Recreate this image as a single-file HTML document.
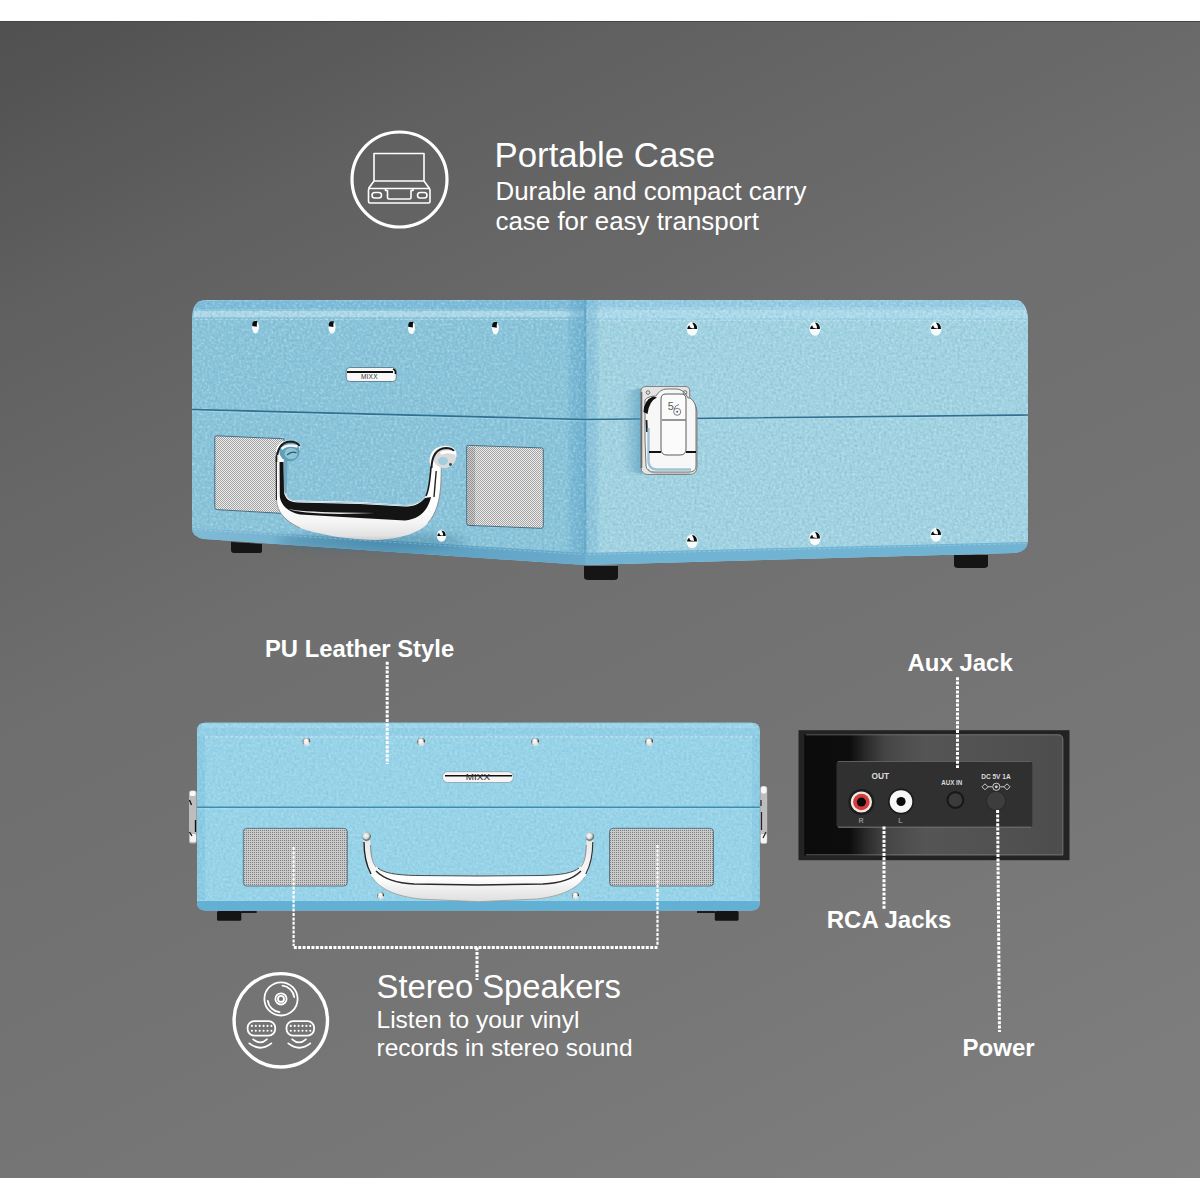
<!DOCTYPE html>
<html><head><meta charset="utf-8"><title>Portable Turntable</title>
<style>
html,body{margin:0;padding:0;width:1200px;height:1200px;overflow:hidden;background:#fff;}
#bg{position:absolute;left:0;top:21px;width:1200px;height:1157px;
background:linear-gradient(154deg,#505050 0%,#616161 18.4%,#6a6a6a 34.2%,#6f6f6f 42.5%,#747474 65%,#7f7f7f 100%);border-top:1px solid #454545;box-sizing:border-box;}
svg{position:absolute;left:0;top:0;}
text{font-family:"Liberation Sans",sans-serif;}
</style></head><body>
<div id="bg"></div>
<svg width="1200" height="1200" viewBox="0 0 1200 1200">
<defs>
  <linearGradient id="cornerg" x1="566" x2="600" y1="0" y2="0" gradientUnits="userSpaceOnUse">
    <stop offset="0" stop-color="#6aaed0" stop-opacity="0"/>
    <stop offset="0.15" stop-color="#6aaed0" stop-opacity="0.45"/>
    <stop offset="0.5" stop-color="#5fa5c8" stop-opacity="0.6"/>
    <stop offset="0.6" stop-color="#70b2d2" stop-opacity="0.5"/>
    <stop offset="0.88" stop-color="#74b5d4" stop-opacity="0.4"/>
    <stop offset="1" stop-color="#74b5d4" stop-opacity="0"/>
  </linearGradient>
  <linearGradient id="latchsh" x1="622" x2="642" y1="0" y2="0" gradientUnits="userSpaceOnUse">
    <stop offset="0" stop-color="#5c9fc0" stop-opacity="0"/>
    <stop offset="1" stop-color="#4f93b6" stop-opacity="0.6"/>
  </linearGradient>
  <linearGradient id="gripg" x1="0" x2="0" y1="505" y2="541" gradientUnits="userSpaceOnUse">
    <stop offset="0" stop-color="#ffffff"/>
    <stop offset="0.5" stop-color="#f4f4f4"/>
    <stop offset="0.85" stop-color="#e2e2e2"/>
    <stop offset="1" stop-color="#c8c8c8"/>
  </linearGradient>
  <pattern id="mesh" width="2" height="2" patternUnits="userSpaceOnUse">
    <rect width="2" height="2" fill="#ececec"/>
    <rect width="1" height="1" fill="#a4a4a4"/>
    <rect x="1" y="1" width="1" height="1" fill="#a4a4a4"/>
  </pattern>
  <pattern id="mesh2" width="2" height="2" patternUnits="userSpaceOnUse">
    <rect width="2" height="2" fill="#cacaca"/>
    <rect width="1" height="1" fill="#7e7e7e"/>
  </pattern>
  <radialGradient id="rivet" cx="0.45" cy="0.35" r="0.6">
    <stop offset="0" stop-color="#ffffff"/>
    <stop offset="0.45" stop-color="#e8e8e8"/>
    <stop offset="0.6" stop-color="#222"/>
    <stop offset="1" stop-color="#cfcfcf"/>
  </radialGradient>
  <linearGradient id="chrome" x1="0" x2="0" y1="0" y2="1">
    <stop offset="0" stop-color="#f4f4f4"/>
    <stop offset="0.35" stop-color="#ffffff"/>
    <stop offset="0.5" stop-color="#e0e0e0"/>
    <stop offset="1" stop-color="#ffffff"/>
  </linearGradient>
  <linearGradient id="panelgloss" x1="804" x2="1063" y1="0" y2="0" gradientUnits="userSpaceOnUse">
    <stop offset="0" stop-color="#0b0b0b"/>
    <stop offset="0.178" stop-color="#0d0d0d"/>
    <stop offset="0.24" stop-color="#2a2a2a"/>
    <stop offset="0.31" stop-color="#444444"/>
    <stop offset="0.39" stop-color="#4e4e4e"/>
    <stop offset="0.47" stop-color="#555555"/>
    <stop offset="1" stop-color="#4d4d4d"/>
  </linearGradient>
  <g id="rvL">
    <ellipse cx="0" cy="0" rx="3.5" ry="6.4" fill="#f7fbfc"/>
    <path d="M-3.3 -1 Q-3.5 -5.5 -1 -6 L2 -6 Q1 -3 1.4 -0.2 Z" fill="#0c0c0c"/>
  </g>
  <g id="rvR">
    <ellipse cx="0" cy="0.3" rx="5.6" ry="7" fill="#f7fbfc"/>
    <path d="M-5 0.5 Q-4.5 -3 -2.5 -3 Q-3 0 2 0 Q2 -3 0 -6 Q5 -5.5 5 0.5 Z" fill="#0c0c0c"/>
  </g>
  <linearGradient id="chromeF" x1="0" x2="0" y1="840" y2="902" gradientUnits="userSpaceOnUse">
    <stop offset="0" stop-color="#e8e8e8"/>
    <stop offset="0.5" stop-color="#f7f7f7"/>
    <stop offset="0.62" stop-color="#ffffff"/>
    <stop offset="0.75" stop-color="#f2f2f2"/>
    <stop offset="1" stop-color="#dedede"/>
  </linearGradient>
  <radialGradient id="knob" cx="0.4" cy="0.35" r="0.65">
    <stop offset="0" stop-color="#ffffff"/>
    <stop offset="0.5" stop-color="#d8d8d8"/>
    <stop offset="0.8" stop-color="#6a6a6a"/>
    <stop offset="1" stop-color="#9cc8d8"/>
  </radialGradient>
  <radialGradient id="ball" cx="0.45" cy="0.35" r="0.6">
    <stop offset="0" stop-color="#ffffff"/>
    <stop offset="0.35" stop-color="#f0f0f0"/>
    <stop offset="0.6" stop-color="#9a9a9a"/>
    <stop offset="0.8" stop-color="#3a3a3a"/>
    <stop offset="1" stop-color="#c8d8de"/>
  </radialGradient>
  <g id="rvF">
    <circle cx="0" cy="0" r="4" fill="url(#ball)"/>
    <path d="M-3.6 0.6 Q0 -1 3.6 0.6 Q3 3.4 0 3.8 Q-3 3.4 -3.6 0.6 Z" fill="#eef3f5" opacity="0.9"/>
  </g>
  <linearGradient id="lipL" x1="192" x2="585" y1="0" y2="0" gradientUnits="userSpaceOnUse">
    <stop offset="0" stop-color="#7fbad6"/>
    <stop offset="0.2" stop-color="#78b4d1"/>
    <stop offset="0.5" stop-color="#5c9dbf"/>
    <stop offset="0.8" stop-color="#64a6c8"/>
    <stop offset="1" stop-color="#6aabcc"/>
  </linearGradient>
  <filter id="blur4" x="-20%" y="-50%" width="140%" height="200%"><feGaussianBlur stdDeviation="4"/></filter>
  <filter id="leather" x="0" y="0" width="100%" height="100%" filterUnits="userSpaceOnUse">
    <feTurbulence type="fractalNoise" baseFrequency="0.38" numOctaves="2" seed="3" result="n"/>
    <feColorMatrix in="n" type="matrix" values="0 0 0 0 1  0 0 0 0 1  0 0 0 0 1  3.2 0 0 0 -1.6" result="light"/>
    <feColorMatrix in="n" type="matrix" values="0 0 0 0 0.1  0 0 0 0 0.3  0 0 0 0 0.4  -3.2 0 0 0 1.45" result="dark"/>
    <feMerge><feMergeNode in="dark"/><feMergeNode in="light"/></feMerge>
  </filter>
  <clipPath id="clip3d"><path d="M192 318 Q192 300 206 300 L1016 300 Q1026 301 1028 318 L1028 541 Q1027 552 1014 553 L585 565 L204 539 Q192 537 192 528 Z"/></clipPath>
  <clipPath id="clipF"><path d="M197 731 Q197 722.7 205.5 722.7 L751.5 722.7 Q759.8 722.7 759.8 731 L759.8 902 Q759.8 910.5 751.5 910.5 L205.5 910.5 Q197 910.5 197 902 Z"/></clipPath>
</defs>

<!-- ============ TOP ICON: portable case ============ -->
<g fill="none" stroke="#fff">
  <circle cx="399.5" cy="179.5" r="47.5" stroke-width="3.2"/>
  <g stroke-width="1.6" stroke-linejoin="round">
    <rect x="374" y="153.5" width="50" height="27.5"/>
    <path d="M374 181 L368.5 188.5 M424 181 L429.5 188.5"/>
    <rect x="368.5" y="188.5" width="61.5" height="14.5" rx="1.5"/>
    <rect x="372" y="192.5" width="9.5" height="5.5" rx="2.7"/>
    <rect x="417.5" y="192.5" width="9.5" height="5.5" rx="2.7"/>
    <path d="M385.5 188.5 V190.5 H387.5 V197.5 Q387.5 199 389 199 H409.5 Q411 199 411 197.5 V190.5 H413 V188.5"/>
  </g>
</g>
<g fill="#fff">
  <text x="494.5" y="167" font-size="34.8">Portable Case</text>
  <text x="495.5" y="199.5" font-size="25.9">Durable and compact carry</text>
  <text x="495.5" y="230" font-size="25.9">case for easy transport</text>
</g>

<!-- ============ 3D CASE ============ -->
<g id="case3d">
  <!-- left face -->
  <path d="M192 318 Q192 300 206 300 L585 300 L585 565 L204 539 Q192 537 192 528 Z" fill="#88c3da"/>
  <!-- right face -->
  <path d="M585 300 L1016 300 Q1026 301 1028 318 L1028 541 Q1027 552 1014 553 L585 565 Z" fill="#a0d2e1"/>
  <!-- top strips -->
  <path d="M193 318 Q194 300 207 300 L585 300 L585 319 Z" fill="#8cc5dc"/>
  <path d="M199 301 L585 301 L585 309 L195 309 Q196 303 199 301 Z" fill="#7ab9d8" opacity="0.9"/>
  <path d="M194 311 L585 311 L585 317 L193 317 Z" fill="#b4dcea" opacity="0.8"/>
  <path d="M585 300 L1016 300 Q1026 301 1028 318 L1028 320 L585 320 Z" fill="#9dd2e6"/>
  <path d="M585 300.5 L1016 300.5 Q1022 301.5 1024 307 L585 307 Z" fill="#90c8df" opacity="0.7"/>
  <path d="M585 310 L1026 310 L1027 318 L585 318 Z" fill="#b6deeb" opacity="0.6"/>
  <!-- stitching top -->
  <path d="M195 319.5 L583 319.5 M588 320.5 L1026 320.5" stroke="#d4ecf5" stroke-width="1" stroke-dasharray="3 2" fill="none" opacity="0.45"/>
  <!-- corner shading -->
  <path d="M566 300 L600 300 L600 565 L566 562 Z" fill="url(#cornerg)"/>
  <path d="M584.3 300 L586.3 300 L586.3 565 L584.3 565 Z" fill="#5a9dbf" opacity="0.75"/>
  <g clip-path="url(#clip3d)" opacity="0.26"><rect x="192" y="300" width="836" height="265" filter="url(#leather)"/></g>
  <!-- seams -->
  <path d="M192 409.5 L585 419.5 L1028 415" stroke="#2f6f8f" stroke-width="1.6" fill="none"/>
  <path d="M192 411 L585 421 L1028 416.5" stroke="#b9e0ee" stroke-width="0.8" fill="none" opacity="0.6"/>
  <!-- bottom lips -->
  <path d="M192 528 L585 553 L585 565 L204 539 Q192 537 192 528 Z" fill="url(#lipL)"/>
  <ellipse cx="372" cy="541" rx="95" ry="9" fill="#2f6f8f" opacity="0.35" filter="url(#blur4)"/>
  <path d="M585 553 L1028 542 Q1027 552 1014 553 L585 565 Z" fill="#71b3d3"/>
  <path d="M194 529.5 L583 554.5 M588 554.5 L1026 543.5" stroke="#c4e5f1" stroke-width="0.9" stroke-dasharray="3 2" fill="none" opacity="0.4"/>
  <!-- feet -->
  <path d="M231 542 L262 544 L262 551 Q262 553 259 553 L234 553 Q231 553 231 550 Z" fill="#151515"/>
  <path d="M584 566 L618 566 L618 577 Q618 580 614 580 L588 580 Q584 580 584 577 Z" fill="#151515"/>
  <path d="M954 555 L988 555 L988 565 Q988 568 984 568 L958 568 Q954 568 954 565 Z" fill="#151515"/>
  <!-- latch shadow on right face -->
  <path d="M622 392 L642 388 L642 474 L622 470 Z" fill="url(#latchsh)"/>
  <!-- grilles -->
  <path d="M214.8 437.5 Q214.8 435.8 216.8 435.8 L284 438.8 L284 513.5 L216.8 509.6 Q214.8 509.6 214.8 507.6 Z" fill="url(#mesh)" stroke="#3d6478" stroke-width="0.9"/>
  <path d="M466.7 447.2 Q466.7 445.4 468.7 445.4 L541.3 447.9 Q543.3 447.9 543.3 449.9 L543.3 526.3 Q543.3 528.3 541.3 528.3 L468.7 525.4 Q466.7 525.4 466.7 523.4 Z" fill="url(#mesh)" stroke="#3d6478" stroke-width="0.9"/>
  <path d="M467.5 447 L475 447.3 L475 525.7 L467.5 525.4 Z" fill="#000" opacity="0.12"/>
  <!-- badge -->
  <rect x="346.2" y="367.5" width="50" height="14" rx="3.5" fill="#f7f7f7" stroke="#4d6f80" stroke-width="0.8"/>
  <path d="M347 372 L393 372" stroke="#111" stroke-width="2"/>
  <path d="M393 369 Q396 370 395.5 374" stroke="#111" stroke-width="1.6" fill="none"/>
  <text x="361" y="379" font-size="6.5" fill="#333" letter-spacing="0.2">MIXX</text>
  <!-- rivets -->
  <g>
    <g transform="translate(255.5 327)"><use href="#rvL"/></g>
    <g transform="translate(332 327.3)"><use href="#rvL"/></g>
    <g transform="translate(411.5 327.7)"><use href="#rvL"/></g>
    <g transform="translate(495.4 328)"><use href="#rvL"/></g>
    <g transform="translate(692.2 328.4)"><use href="#rvR"/></g>
    <g transform="translate(815 328.4)"><use href="#rvR"/></g>
    <g transform="translate(936 328.4)"><use href="#rvR"/></g>
    <g transform="translate(692 541)"><use href="#rvR"/></g>
    <g transform="translate(815 538)"><use href="#rvR"/></g>
    <g transform="translate(936 534.5)"><use href="#rvR"/></g>
    <g transform="translate(441.5 535.5) scale(0.85)"><use href="#rvR"/></g>
  </g>
  <!-- latch -->
  <g>
    <path d="M641 391 Q641 386.5 646 386.5 L685 386.5 Q689.7 386.5 689.7 391 L689.7 400 Q697 404 697 412 L697 467 Q697 474.5 689 474.5 L648 474.5 Q641 474.5 641 467 Z" fill="#e4e4e4" stroke="#7a7a7a" stroke-width="0.9"/>
    <path d="M645 400 Q648 396 656 396 Q660 389 667 389 L676 389 Q684 389 688 398 L690 398 Q696 402 696 410 L696 466 Q696 472 689 472 L654 472 Q647 472 646 466 L645 440 Z" fill="#f7f7f7" stroke="#555" stroke-width="0.8"/>
    <path d="M643.5 412 Q644 400 653 396.5 L657 397.5 Q649 401 647.5 414 Z" fill="#111"/>
    <path d="M646.5 420 L647 432" stroke="#222" stroke-width="1.8" fill="none"/>
    <path d="M641.5 392 L641.5 468" stroke="#6a6a6a" stroke-width="1.6" fill="none"/>
    <path d="M648 469 Q650 473 657 473 L690 473" stroke="#9a9a9a" stroke-width="1.2" fill="none"/>
    <path d="M661 399 Q661 394 666 394 L681 394 Q686 394 686 399 L686 449 Q686 455 680 455 L667 455 Q661 455 661 449 Z" fill="#fbfbfb" stroke="#4a4a4a" stroke-width="0.9"/>
    <path d="M662 420 H685.5" stroke="#333" stroke-width="1"/>
    <path d="M648.5 428 L648.5 462 Q649.5 469.5 657 469.5 L691 469.5" stroke="#7db3c9" stroke-width="2.4" fill="none" opacity="0.75"/>
    <path d="M649 452 H661 M686 452 H696" stroke="#111" stroke-width="2.2"/>
    <circle cx="648" cy="392.5" r="1.8" fill="none" stroke="#555" stroke-width="0.8"/>
    <circle cx="685" cy="392.5" r="1.8" fill="none" stroke="#555" stroke-width="0.8"/>
    <text x="667.8" y="410" font-size="11" fill="#5a5a5a">5</text>
    <circle cx="677.2" cy="411.8" r="3.5" fill="none" stroke="#5a5a5a" stroke-width="0.8"/>
    <circle cx="677.2" cy="411.8" r="1" fill="#5a5a5a"/>
    <path d="M674 409.5 Q675 405 679 404.5" stroke="#5a5a5a" stroke-width="0.8" fill="none"/>
  </g>
  <!-- handle -->
  <g>
    <path d="M276 452 C276 444 282 440.5 289 440.5 C296 440.5 300 444 300 449 C300 454 296 457 290 457 L287 458 L286.5 494 C287 499 291 500.5 297 500.5 L360 502 L405 505 C416 505 422 502 426 496 C429 490 430 480 431 466 C428 462 430 454 433 451 C436 447 441 446 446 446 C452 446 456.5 449 456.5 454 C456.5 460 452 464 446 465 L441.5 467 L441 480 C440.5 500 436 514 428 523 C420 532 405 538 378 540 C350 540 320 535 300 528 C285 521 277 512 276 500 Z" fill="url(#gripg)"/>
    <path d="M279.3 462 L283.6 462 L284 492 C285 499 290 502.5 298 502.5 L360 504 L405 506.5 C414 506.5 420 504 425 498 L431 497 C428 510 420 519 405 520.5 L360 518 L300 514.5 C288 512 280 505 279.5 494 Z" fill="#141414"/>
    <path d="M288 509 Q300 511.5 340 512.5 L375 513 L340 514 Q300 513.5 288 509 Z" fill="#e8e8e8"/>
    <path d="M284.5 462 L285 492 C286 498 291 501 298 501.5 L360 503 L405 505.5 C414 505.5 419 503 424 497" stroke="#a9cfdc" stroke-width="1.1" fill="none"/>
    <path d="M276.3 452 L276.5 500 C277 512 285 521 300 528" stroke="#8c8c8c" stroke-width="0.9" fill="none"/>
    <path d="M441.3 467 L441 480 C440.5 500 436 514 428 523" stroke="#8a8a8a" stroke-width="0.9" fill="none"/>
    <path d="M431 467 C430 480 429 490 426 496" stroke="#1a1a1a" stroke-width="1.6" fill="none"/>
    <path d="M283.6 460 L287.3 460 L286.8 493 Q285.5 494 284.2 492 Z" fill="#6fa8c0"/>
    <path d="M276.2 456 L276.4 500" stroke="#1e1e1e" stroke-width="1.1" fill="none"/>
    <path d="M436.2 471 L434 497" stroke="#222" stroke-width="1.4" fill="none"/>
    <!-- left knob -->
    <ellipse cx="289.5" cy="451.5" rx="10.3" ry="9.8" fill="#5f9fb8"/>
    <ellipse cx="291" cy="453.5" rx="6.5" ry="5.5" fill="#8fc4d6"/>
    <path d="M276.8 462 Q276.5 442.5 290 441.5 Q296.5 441.5 299.5 446" stroke="#1c1c1c" stroke-width="2.2" fill="none"/>
    <path d="M281.5 449 Q287 443.5 297.5 446.5" stroke="#f6f6f6" stroke-width="2.6" fill="none"/>
    <path d="M287 455 Q292 450.5 296.5 453" stroke="#2b5a6c" stroke-width="1.2" fill="none"/>
    <path d="M278.3 455 L278.6 497" stroke="#f4f4f4" stroke-width="2" fill="none"/>
    <!-- right knob -->
    <ellipse cx="444.5" cy="457.5" rx="11.3" ry="10.5" fill="#dadada"/>
    <ellipse cx="443" cy="461" rx="5" ry="4" fill="#9ccadb" opacity="0.9"/>
    <path d="M431.5 468 Q432 449 446 448 Q451.5 448 454 451" stroke="#1c1c1c" stroke-width="2" fill="none"/>
    <path d="M440.5 453.5 Q448 449.8 455.5 453.5" stroke="#ffffff" stroke-width="3" fill="none"/>
    <circle cx="450.5" cy="464.5" r="1.4" fill="#2b4a55"/>
  </g>
</g>

<!-- ============ PU Leather label ============ -->
<text x="265" y="657" font-size="23.8" font-weight="bold" fill="#fff">PU Leather Style</text>

<!-- ============ FRONT CASE ============ -->
<g id="front">
  <path d="M197 731 Q197 722.7 205.5 722.7 L751.5 722.7 Q759.8 722.7 759.8 731 L759.8 902 Q759.8 910.5 751.5 910.5 L205.5 910.5 Q197 910.5 197 902 Z" fill="#97d3e8"/>
  <path d="M197 731 Q197 722.7 205.5 722.7 L751.5 722.7 Q759.8 722.7 759.8 731 L759.8 735.7 L197 735.7 Z" fill="#90cfe6"/>
  <path d="M203 724 L754 724 L754 728 L201 728 Z" fill="#a6daea" opacity="0.6"/>
  <path d="M200 737 L757 737" stroke="#c4e6f2" stroke-width="1" stroke-dasharray="3 2"/>
  <path d="M197 735.7 L205 735.7 L205 900 L197 900 Z" fill="#7fc3df" opacity="0.55"/>
  <path d="M752 735.7 L759.8 735.7 L759.8 900 L752 900 Z" fill="#7fc3df" opacity="0.4"/>
  <g clip-path="url(#clipF)" opacity="0.18"><rect x="197" y="722" width="563" height="189" filter="url(#leather)"/></g>
  <path d="M197 807.3 L759.8 807.3" stroke="#3d8db1" stroke-width="1.5"/>
  <path d="M197 808.8 L759.8 808.8" stroke="#b5e0ee" stroke-width="0.8" opacity="0.7"/>
  <path d="M197 901 L759.8 901 L759.8 902 Q759.8 910.5 751.5 910.5 L205.5 910.5 Q197 910.5 197 902 Z" fill="#62b0d4"/>
  <path d="M200 900.3 L757 900.3" stroke="#9fd6ea" stroke-width="1" stroke-dasharray="3 2"/>
  <!-- grilles -->
  <rect x="243.3" y="828.3" width="104" height="57.7" rx="3.5" fill="url(#mesh2)" stroke="#4e6f7d" stroke-width="0.9"/>
  <rect x="609.5" y="828.3" width="104" height="57.7" rx="3.5" fill="url(#mesh2)" stroke="#4e6f7d" stroke-width="0.9"/>
  <!-- feet -->
  <rect x="217" y="911" width="24.3" height="9.8" rx="1.5" fill="#141414"/>
  <rect x="241" y="911" width="15.7" height="2" fill="#1a1a1a"/>
  <rect x="714.8" y="911" width="23.8" height="9.8" rx="1.5" fill="#141414"/>
  <rect x="697" y="911" width="18" height="2" fill="#1a1a1a"/>
  <!-- side latches -->
  <g>
    <rect x="189" y="790.5" width="7.6" height="53" rx="2.5" fill="#bdbdbd"/>
    <rect x="190" y="791" width="5.5" height="5" rx="1.5" fill="#f8f8f8"/>
    <rect x="190" y="834" width="6" height="8" rx="1.5" fill="#f4f4f4"/>
    <path d="M189.5 800 L191.5 805 M189.5 832 L192 836 M195.5 820 L195.5 832" stroke="#111" stroke-width="1.3"/>
    <rect x="760.2" y="786" width="7" height="58" rx="2.5" fill="#bdbdbd"/>
    <rect x="761" y="786.5" width="5.5" height="7" rx="2" fill="#f8f8f8"/>
    <rect x="760.8" y="834" width="6" height="9" rx="1.5" fill="#f4f4f4"/>
    <path d="M761 800 L761 806 M766 832 L763 838 M761.5 812 L761.5 830" stroke="#222" stroke-width="1.2"/>
  </g>
  <!-- badge -->
  <rect x="442.5" y="771.7" width="70.8" height="10.8" rx="5" fill="#f6f4f4" stroke="#7a98a5" stroke-width="0.7"/>
  <path d="M445 775.8 L512 775.8" stroke="#111" stroke-width="1.4"/>
  <text x="465.8" y="780" font-size="8.4" fill="#2a2a2a" textLength="24.2" lengthAdjust="spacingAndGlyphs">MIXX</text>
  <!-- rivets -->
  <g>
    <g transform="translate(306.6 742)"><use href="#rvF"/></g>
    <g transform="translate(421.2 742)"><use href="#rvF"/></g>
    <g transform="translate(535.2 742)"><use href="#rvF"/></g>
    <g transform="translate(649.2 742)"><use href="#rvF"/></g>
    <g transform="translate(380.6 895.8) scale(0.9)"><use href="#rvF"/></g>
    <g transform="translate(575.5 895.8) scale(0.9)"><use href="#rvF"/></g>
  </g>
  <!-- handle -->
  <path d="M363.5 840 C363.5 852 365 866 372 877 C380 889 395 896 420 899 L478.4 901.7 L536.8 899 C561.8 896 576.8 889 584.8 877 C591.8 866 593.3 852 593.3 840 L586.5 840 C586.5 852 585 862 579 868 C573 873 561 875 541 875.5 L478.4 876 L415.8 875.5 C395.8 875 383.8 873 377.8 868 C371.8 862 370.3 852 370.3 840 Z" fill="url(#chromeF)"/>
  <path d="M377.8 868 C383.8 873 395.8 875 415.8 875.5 L478.4 876 L541 875.5 C561 875 573 873 579 868" stroke="#4a4a4a" stroke-width="1" fill="none"/>
  <path d="M376 871 C385 880 397 883.3 414 884 L478.4 885 L543 884 C560 883.3 572 880 581 871" stroke="#2a2a2a" stroke-width="1.5" fill="none"/>
  <path d="M364 842 C364 852 365.5 864 371 874" stroke="#222" stroke-width="1.4" fill="none"/>
  <path d="M592.8 842 C592.8 852 591.3 864 585.8 874" stroke="#333" stroke-width="1.2" fill="none"/>
  <path d="M370.5 845 C370.8 855 372 862 376 867" stroke="#777" stroke-width="0.8" fill="none"/>
  <path d="M586.3 845 C586 855 584.8 862 580.8 867" stroke="#777" stroke-width="0.8" fill="none"/>
  <path d="M372 877 C380 889 395 896 420 899 L478.4 901.7 L536.8 899 C561.8 896 576.8 889 584.8 877" stroke="#9a9a9a" stroke-width="0.8" fill="none"/>
  <circle cx="366.8" cy="837" r="4.4" fill="url(#knob)"/>
  <circle cx="590" cy="837" r="4.4" fill="url(#knob)"/>
</g>

<!-- ============ BLACK PANEL ============ -->
<g id="panel">
  <rect x="798.5" y="730.2" width="271" height="130" fill="#232323"/>
  <path d="M804.3 734.3 L1058 734.3 Q1063 734.3 1063.3 739 L1063.3 855.6 L804.3 855.6 Z" fill="url(#panelgloss)"/>
  <path d="M806 734.8 L1058 734.8 Q1062.6 735 1062.8 739.5 L1062.8 854.8 L806 854.8" stroke="#7a7a7a" stroke-width="0.9" fill="none" opacity="0.8"/>
  <rect x="836.5" y="761" width="195.8" height="66.6" rx="3" fill="#303030"/>
  <path d="M838 761.5 L1031 761.5" stroke="#5e5e5e" stroke-width="1"/>
  <path d="M838 827.2 L1031 827.2" stroke="#7a7a7a" stroke-width="1"/>
  <circle cx="861.4" cy="802" r="13" fill="#1c1c1c"/>
  <circle cx="861.4" cy="802" r="10.6" fill="#efe9e6"/>
  <circle cx="861.4" cy="802" r="8.3" fill="#d83b3b"/>
  <circle cx="861.4" cy="802" r="4.6" fill="#090909"/>
  <circle cx="901" cy="801.5" r="13" fill="#1c1c1c"/>
  <circle cx="901" cy="801.5" r="11.3" fill="#f6f6f6"/>
  <circle cx="901" cy="801.5" r="4.6" fill="#090909"/>
  <circle cx="955.4" cy="800" r="8.9" fill="#181818"/>
  <circle cx="955.4" cy="800" r="6.8" fill="#3b3b3b"/>
  <circle cx="996" cy="800.8" r="9.6" fill="#3d3d3d"/>
  <circle cx="996" cy="800.8" r="9.6" fill="none" stroke="#222" stroke-width="0.8"/>
  <g fill="#dcdcdc" font-weight="bold">
    <text x="871.5" y="779.3" font-size="8.4">OUT</text>
    <text x="941.2" y="785.2" font-size="7" textLength="21" lengthAdjust="spacingAndGlyphs">AUX IN</text>
    <text x="981.2" y="779.3" font-size="7" textLength="29.5" lengthAdjust="spacingAndGlyphs">DC 5V 1A</text>
    <text x="858.6" y="823.2" font-size="7.2" fill="#8e8e8e">R</text>
    <text x="898.2" y="823.2" font-size="7.2" fill="#8e8e8e">L</text>
  </g>
  <g stroke="#dcdcdc" stroke-width="0.9" fill="none">
    <path d="M982 786.8 L985 783.8 L988 786.8 L985 789.8 Z M988 786.8 H992.3 M1000.3 786.8 H1004 M1004 786.8 L1007 783.8 L1010 786.8 L1007 789.8 Z"/>
    <circle cx="996.3" cy="786.8" r="3.6"/>
  </g>
  <circle cx="996.3" cy="786.8" r="1.4" fill="#dcdcdc"/>
</g>

<!-- dotted leader lines -->
<g stroke="#fff" stroke-width="3" stroke-dasharray="3 1.4" fill="none">
  <path d="M387.2 661.8 V764"/>
  <path d="M293.8 947.5 H657.5"/>
  <path d="M477 947.5 V980"/>
  <path d="M957.5 677.2 V768"/>
  <path d="M884 826.5 V909.5"/>
  <path d="M997.6 810 L999.5 1032"/>
</g>

<g stroke="#fff" stroke-width="2.2" stroke-dasharray="3 1.4" fill="none">
  <path d="M293.6 847 V946"/>
  <path d="M657.5 845 V946"/>
</g>
<!-- bold labels -->
<g fill="#fff" font-weight="bold" font-size="24">
  <text x="907.4" y="671">Aux Jack</text>
  <text x="826.75" y="927.5">RCA Jacks</text>
  <text x="962.6" y="1056">Power</text>
</g>

<!-- ============ STEREO ICON ============ -->
<g fill="none" stroke="#fff">
  <circle cx="280.8" cy="1020.3" r="46.7" stroke-width="3.4"/>
  <g stroke-width="1.8" stroke-linecap="round">
    <circle cx="281" cy="998.9" r="16.6"/>
    <circle cx="281" cy="998.9" r="5.6"/>
    <circle cx="281" cy="998.9" r="3"/>
    <path d="M282.5 985.6 A13.3 13.3 0 0 1 294.2 997"/>
    <path d="M279.5 1012.2 A13.3 13.3 0 0 1 267.8 1000.8"/>
    <rect x="247.6" y="1021.2" width="27.6" height="14.4" rx="6.5"/>
    <rect x="286.5" y="1021.2" width="27.6" height="14.4" rx="6.5"/>
    <path d="M253.2 1039.3 Q260 1045.5 266.9 1039.3"/>
    <path d="M249.3 1043.4 Q260.3 1052 271.3 1043.4"/>
    <path d="M292.2 1039.3 Q299 1045.5 305.9 1039.3"/>
    <path d="M288.3 1043.4 Q299.3 1052 310.3 1043.4"/>
  </g>
</g>
<g fill="#fff"><circle cx="251.9" cy="1025.9" r="1.05"/><circle cx="255.8" cy="1025.9" r="1.05"/><circle cx="259.7" cy="1025.9" r="1.05"/><circle cx="263.6" cy="1025.9" r="1.05"/><circle cx="267.5" cy="1025.9" r="1.05"/><circle cx="271.4" cy="1025.9" r="1.05"/><circle cx="290.8" cy="1025.9" r="1.05"/><circle cx="294.7" cy="1025.9" r="1.05"/><circle cx="298.6" cy="1025.9" r="1.05"/><circle cx="302.5" cy="1025.9" r="1.05"/><circle cx="306.4" cy="1025.9" r="1.05"/><circle cx="310.3" cy="1025.9" r="1.05"/><circle cx="251.9" cy="1030.7" r="1.05"/><circle cx="255.8" cy="1030.7" r="1.05"/><circle cx="259.7" cy="1030.7" r="1.05"/><circle cx="263.6" cy="1030.7" r="1.05"/><circle cx="267.5" cy="1030.7" r="1.05"/><circle cx="271.4" cy="1030.7" r="1.05"/><circle cx="290.8" cy="1030.7" r="1.05"/><circle cx="294.7" cy="1030.7" r="1.05"/><circle cx="298.6" cy="1030.7" r="1.05"/><circle cx="302.5" cy="1030.7" r="1.05"/><circle cx="306.4" cy="1030.7" r="1.05"/><circle cx="310.3" cy="1030.7" r="1.05"/></g>
<g fill="#fff">
  <text x="376.5" y="997.5" font-size="32.8">Stereo Speakers</text>
  <text x="376.5" y="1028" font-size="24.5">Listen to your vinyl</text>
  <text x="376.5" y="1056" font-size="24.5">records in stereo sound</text>
</g>
</svg>
</body></html>
